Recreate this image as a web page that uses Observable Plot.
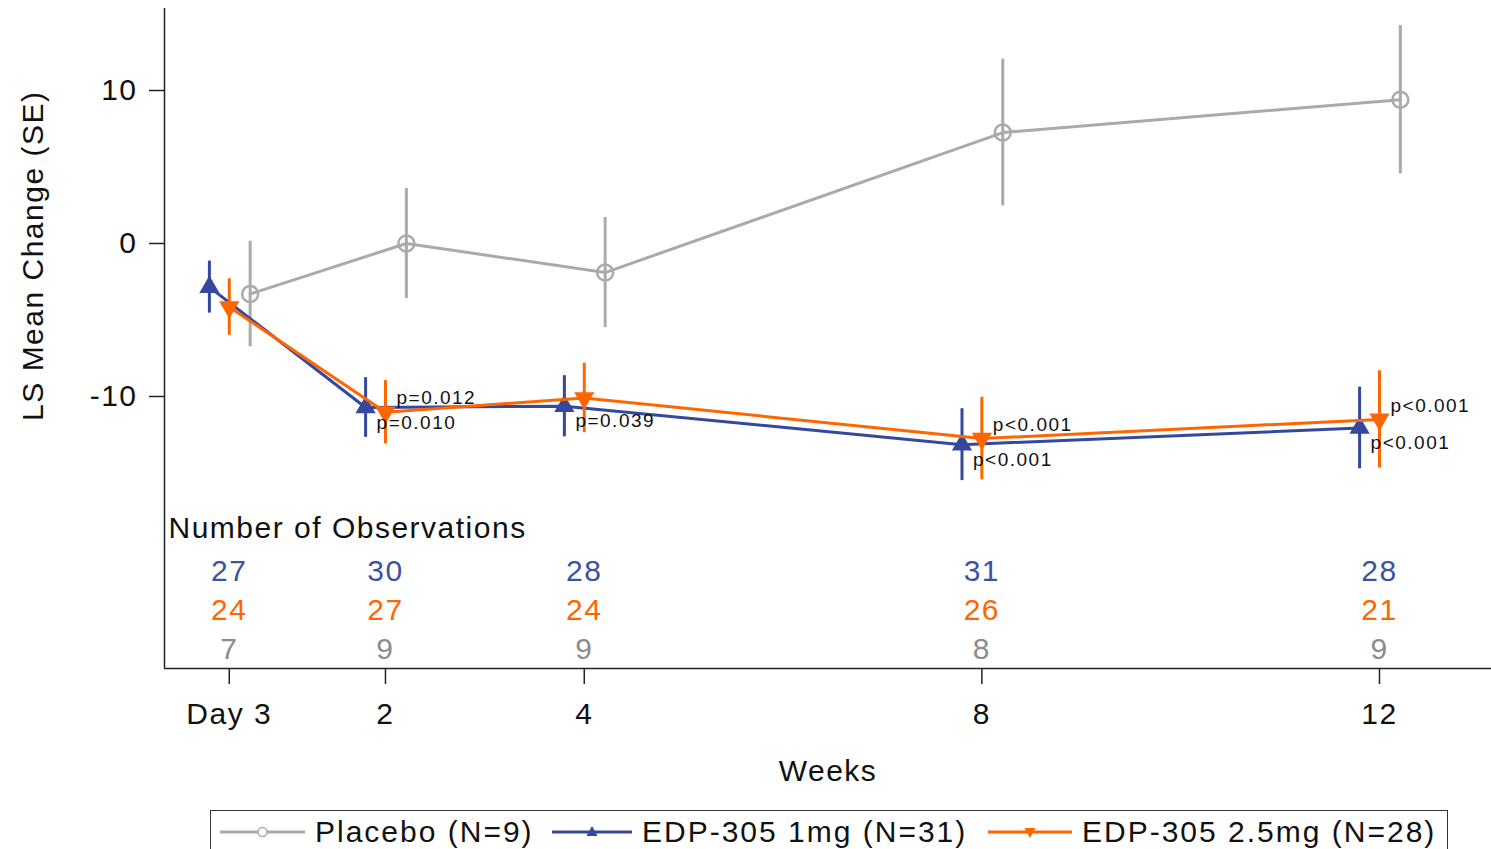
<!DOCTYPE html>
<html>
<head>
<meta charset="utf-8">
<script src="https://cdn.jsdelivr.net/npm/d3@7"></script>
<script src="https://cdn.jsdelivr.net/npm/@observablehq/plot@0.6"></script>
<style>
  html, body { margin: 0; padding: 0; background: #fff; overflow: hidden; }
  #chart svg text { letter-spacing: 1.5px; }
  #legend {
    position: absolute; left: 210px; top: 810px; width: 1238px; height: 60px;
    border: 1.5px solid #333; box-sizing: border-box;
    font-family: "Liberation Sans", Arial, sans-serif; font-size: 30px; letter-spacing: 2px; color: #111;
  }
  #legend .item { position: absolute; top: 0; height: 42px; display: flex; align-items: center; }
  #legend svg { display: block; }
</style>
</head>
<body>
<div id="chart"></div>
<div id="legend"></div>
<script>
// ---- data ----
const weeks = [3/7, 2, 4, 8, 12];
const weekLabels = ["Day 3", "2", "4", "8", "12"];
const seriesNames = ["Placebo (N=9)", "EDP-305 1mg (N=31)", "EDP-305 2.5mg (N=28)"];

const placeboMean = [-3.3, 0.0, -1.9, 7.25, 9.4];
const placeboSE   = [3.45, 3.6, 3.6, 4.8, 4.85];
const placeboN    = [7, 9, 9, 8, 9];

const mg1Mean = [-2.85, -10.72, -10.64, -13.15, -12.06];
const mg1SE   = [1.7, 1.95, 2.0, 2.35, 2.67];
const mg1N    = [27, 30, 28, 31, 28];
const mg1P    = ["", "p=0.010", "p=0.039", "p<0.001", "p<0.001"];

const mg25Mean = [-4.15, -11.03, -10.1, -12.75, -11.5];
const mg25SE   = [1.85, 2.07, 2.27, 2.7, 3.18];
const mg25N    = [24, 27, 24, 26, 21];
const mg25P    = ["", "p=0.012", "", "p<0.001", "p<0.001"];

// ---- styles ----
const GRAY = "#aaaaaa", GRAY_TXT = "#8c8c8c", BLUE = "#34489e", BLUE_TXT = "#3d52a3", ORANGE = "#ff6600";
const FONT = "Liberation Sans, Arial, sans-serif";

function build(mean, se, n, p, offset) {
  return weeks.map((w, i) => ({week: w, xp: w + offset, mean: mean[i], se: se[i], n: n[i], p: p ? p[i] : ""}));
}
const placebo = build(placeboMean, placeboSE, placeboN, null, 0.21);
const mg1 = build(mg1Mean, mg1SE, mg1N, mg1P, -0.2);
const mg25 = build(mg25Mean, mg25SE, mg25N, mg25P, 0);

const triangleDown = {
  draw(context, size) {
    const y = Math.sqrt(size / (Math.sqrt(3) * 3));
    const x = Math.sqrt(3) * y;
    context.moveTo(0, 2 * y);
    context.lineTo(-x, -y);
    context.lineTo(x, -y);
    context.closePath();
  }
};

const xDomain = [-0.223, 13.127];
const yDomain = [-27.78, 15.36];

function seriesMarks(d, color, symbol, fill, r) {
  return [
    Plot.line(d, {x: "xp", y: "mean", stroke: color, strokeWidth: 3}),
    Plot.ruleX(d, {x: "xp", y1: v => v.mean - v.se, y2: v => v.mean + v.se, stroke: color, strokeWidth: 3}),
    Plot.dot(d, {x: "xp", y: "mean", symbol, r, fill, stroke: fill === "none" ? color : null, strokeWidth: 2.5})
  ];
}

const chart = Plot.plot({
  width: 1491,
  height: 805,
  marginLeft: 164,
  marginRight: 0,
  marginTop: 8,
  marginBottom: 137,
  style: {fontFamily: FONT, fontSize: "30px", color: "#111", background: "#fff"},
  x: {domain: xDomain},
  y: {domain: yDomain},
  marks: [
    Plot.axisY({ticks: [10, 0, -10], tickFormat: d => String(d), tickSize: 15, tickPadding: 12, label: null, fontSize: 30, stroke: "#222", strokeWidth: 1.5}),
    Plot.axisX({ticks: weeks, tickFormat: d => weekLabels[weeks.indexOf(d)], tickSize: 16, tickPadding: 18, label: null, fontSize: 30, stroke: "#222", strokeWidth: 1.5}),
    Plot.ruleX([xDomain[0]], {stroke: "#222", strokeWidth: 1.5}),
    Plot.ruleY([yDomain[0]], {stroke: "#222", strokeWidth: 1.5}),
    ...seriesMarks(placebo, GRAY, "circle", "none", 8),
    ...seriesMarks(mg1, BLUE, "triangle", BLUE, 7.5),
    ...seriesMarks(mg25, ORANGE, triangleDown, ORANGE, 7.5),
    Plot.text(mg1.filter(d => d.p), {x: "xp", y: "mean", text: "p", dx: 11, dy: 15, textAnchor: "start", fontSize: 19, fill: "#111"}),
    Plot.text(mg25.filter(d => d.p), {x: "xp", y: "mean", text: "p", dx: 11, dy: -14, textAnchor: "start", fontSize: 19, fill: "#111"}),
    Plot.text(["Number of Observations"], {text: d => d, frameAnchor: "bottom-left", lineAnchor: "middle", dx: 4, dy: -140, textAnchor: "start", fontSize: 30, fill: "#111"}),
    Plot.text(mg1, {x: "week", text: d => String(d.n), frameAnchor: "bottom", lineAnchor: "middle", dy: -97, fontSize: 30, fill: BLUE_TXT}),
    Plot.text(mg25, {x: "week", text: d => String(d.n), frameAnchor: "bottom", lineAnchor: "middle", dy: -58, fontSize: 30, fill: ORANGE}),
    Plot.text(placebo, {x: "week", text: d => String(d.n), frameAnchor: "bottom", lineAnchor: "middle", dy: -19, fontSize: 30, fill: GRAY_TXT}),
    Plot.text(["Weeks"], {text: d => d, frameAnchor: "bottom", lineAnchor: "middle", dy: 103, fontSize: 30, fill: "#111"}),
    Plot.text(["LS Mean Change (SE)"], {text: d => d, y: -0.8, frameAnchor: "left", dx: -131, rotate: -90, textAnchor: "middle", fontSize: 30, fill: "#111"})
  ]
});
document.getElementById("chart").appendChild(chart);

// ---- legend (HTML, below the SVG) ----
const legendSpec = [
  {name: seriesNames[0], color: GRAY, kind: "circle", left: 9, sw: 85},
  {name: seriesNames[1], color: BLUE, kind: "up", left: 341, sw: 80},
  {name: seriesNames[2], color: ORANGE, kind: "down", left: 777, sw: 84}
];
const legend = document.getElementById("legend");
for (const s of legendSpec) {
  const item = document.createElement("div");
  item.className = "item";
  item.style.left = s.left + "px";
  const cx = s.sw / 2, cy = 10;
  let marker;
  if (s.kind === "circle") marker = `<circle cx="${cx}" cy="${cy}" r="4.5" fill="#fff" stroke="${s.color}" stroke-width="1.5"/>`;
  else if (s.kind === "up") marker = `<path d="M${cx},${cy-6}L${cx-5.5},${cy+4}L${cx+5.5},${cy+4}Z" fill="${s.color}"/>`;
  else marker = `<path d="M${cx},${cy+6}L${cx-5.5},${cy-4}L${cx+5.5},${cy-4}Z" fill="${s.color}"/>`;
  item.innerHTML = `<svg width="${s.sw}" height="20"><line x1="0" x2="${s.sw}" y1="${cy}" y2="${cy}" stroke="${s.color}" stroke-width="3"/>${marker}</svg><span style="margin-left:10px">${s.name}</span>`;
  legend.appendChild(item);
}
</script>
</body>
</html>
